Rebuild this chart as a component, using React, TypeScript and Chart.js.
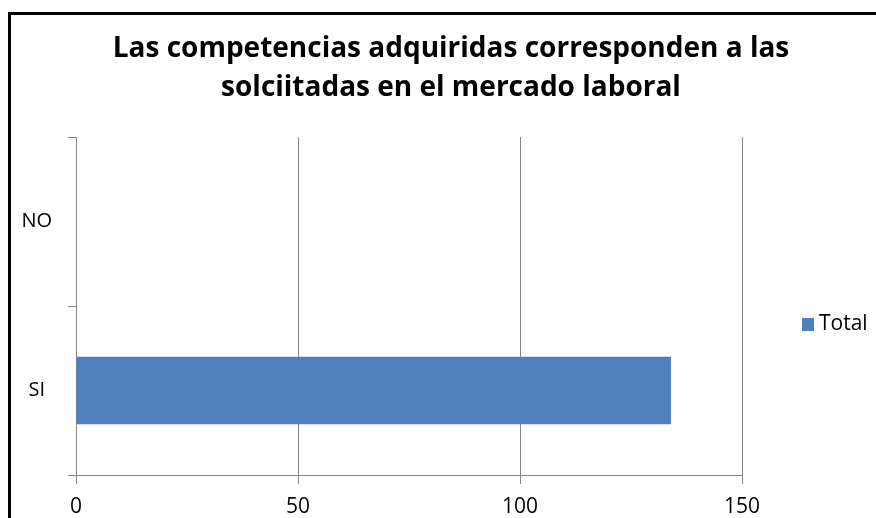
import React, { useEffect, useRef } from "react";
import { Chart, registerables } from "chart.js";

Chart.register(...registerables);

const categories = ["NO", "SI"];
const totals = [0, 134];
const seriesName = "Total";
const titleLines = ["Las competencias adquiridas corresponden a las", "solciitadas en el mercado laboral"];
const xMin = 0;
const xMax = 150;
const xStep = 50;

const FONT = "'Open Sans', 'DejaVu Sans', sans-serif";
const GRID = "#868686";
const BAR = "#4F81BD";

const decorPlugin = {
  id: "decor",
  beforeDraw(chart: any) {
    const ctx = chart.ctx;
    ctx.save();
    ctx.fillStyle = "#ffffff";
    ctx.fillRect(0, 0, chart.width, chart.height);
    ctx.restore();
  },
  afterDraw(chart: any) {
    const ctx = chart.ctx;
    ctx.save();
    // frame
    ctx.fillStyle = "#000000";
    ctx.fillRect(8, 12, 3, chart.height - 12);
    ctx.fillRect(8, 12, chart.width - 8, 3);
    // title
    ctx.fillStyle = "#000000";
    ctx.font = `bold 28px ${FONT}`;
    ctx.textAlign = "center";
    ctx.textBaseline = "middle";
    ctx.fillText(titleLines[0], 451, 49);
    ctx.fillText(titleLines[1], 451, 88);
    // legend
    ctx.fillStyle = BAR;
    ctx.fillRect(802, 318, 12, 13);
    ctx.fillStyle = "#000000";
    ctx.font = `21px ${FONT}`;
    ctx.textAlign = "left";
    ctx.fillText(seriesName, 819, 324);
    ctx.restore();
  },
};

export default function App() {
  const ref = useRef<HTMLCanvasElement | null>(null);
  useEffect(() => {
    if (!ref.current) return;
    const chart = new Chart(ref.current, {
      type: "bar",
      data: {
        labels: categories,
        datasets: [
          {
            label: seriesName,
            data: totals,
            backgroundColor: BAR,
            borderWidth: 0,
            barPercentage: 0.4,
            categoryPercentage: 1,
          },
        ],
      },
      options: {
        indexAxis: "y",
        responsive: false,
        animation: false,
        layout: { padding: { left: 0, right: 134, top: 137, bottom: 0 } },
        plugins: {
          legend: { display: false },
          title: { display: false },
          tooltip: { enabled: false },
        },
        scales: {
          x: {
            min: xMin,
            max: xMax,
            ticks: {
              stepSize: xStep,
              color: "#000000",
              font: { family: FONT, size: 21 },
              padding: 10,
            },
            grid: { color: GRID, tickLength: 9, drawTicks: true },
            border: { color: GRID, width: 1 },
            afterFit(scale: any) {
              scale.height = 43;
            },
          },
          y: {
            offset: true,
            ticks: {
              color: "#000000",
              font: { family: FONT, size: 20 },
              crossAlign: "center",
              padding: 16,
            },
            grid: { offset: true, drawOnChartArea: false, color: GRID, tickLength: 8 },
            border: { color: GRID, width: 1 },
            afterFit(scale: any) {
              scale.width = 76;
            },
          },
        },
      },
      plugins: [decorPlugin],
    } as any);
    return () => chart.destroy();
  }, []);
  return (
    <div style={{ position: "fixed", left: 0, top: 0, width: 876, height: 518, background: "#fff" }}>
      <canvas ref={ref} width={876} height={518} style={{ display: "block" }} />
    </div>
  );
}
